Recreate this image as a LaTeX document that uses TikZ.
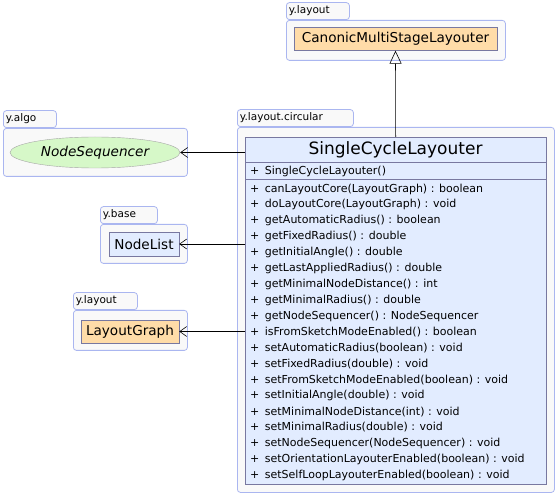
\documentclass[tikz,border=0pt]{standalone}
\usepackage{fontspec}
\setmainfont{DejaVu Sans}
\usetikzlibrary{positioning,arrows.meta,shapes.geometric}
\definecolor{pkgfill}{RGB}{249,249,249}
\definecolor{pkgline}{RGB}{170,182,240}
\definecolor{clsline}{RGB}{120,120,160}
\definecolor{clsblue}{RGB}{226,236,255}
\definecolor{clsorange}{RGB}{255,220,168}
\definecolor{ifgreen}{RGB}{214,248,200}

\begin{document}
\begin{tikzpicture}[
  x=1pt, y=-1pt,
  pkgbody/.style={draw=pkgline, line width=0.8pt, fill=pkgfill, rounded corners=3pt, anchor=north west, inner sep=0pt},
  pkgtab/.style={draw=pkgline, line width=0.8pt, fill=pkgfill, rounded corners=3pt, anchor=south west,
                 minimum height=17pt, inner sep=2.5pt, align=left, font=\fontsize{10.5}{12}\selectfont, text width=#1},
  cls/.style={draw=clsline, fill=clsblue, minimum height=23pt, inner sep=2pt, font=\fontsize{13.6}{16}\selectfont},
  iface/.style={ellipse, draw=gray!70, fill=ifgreen, minimum width=170pt, minimum height=31pt, font=\fontsize{13.6}{16}\selectfont\itshape},
  member/.style={anchor=west, inner sep=0pt, font=\fontsize{11}{13}\selectfont},
  dep/.style={-{Straight Barb[length=7pt, width=10pt]}, semithick},
  inherit/.style={-{Triangle[open, length=13pt, width=12pt]}, semithick},
]
\useasboundingbox (0,0) rectangle (557,494);

% packages
\node[pkgbody, minimum width=219pt, minimum height=40pt] (pkglayout) at (286,20) {};
\node[pkgtab=58pt] (tablayout) at (pkglayout.north west) {y.layout};
\node[pkgbody, minimum width=184pt, minimum height=48pt] (pkgalgo) at (3,128) {};
\node[pkgtab=48pt] (tabalgo) at (pkgalgo.north west) {y.algo};
\node[pkgbody, minimum width=87pt, minimum height=39pt] (pkgbase) at (100,224) {};
\node[pkgtab=52pt] (tabbase) at (pkgbase.north west) {y.base};
\node[pkgbody, minimum width=114pt, minimum height=40pt] (pkglayout2) at (73,310) {};
\node[pkgtab=59pt] (tablayout2) at (pkglayout2.north west) {y.layout};
\node[pkgbody, minimum width=317pt, minimum height=365pt] (pkgcirc) at (237,127) {};
\node[pkgtab=111pt] (tabcirc) at (pkgcirc.north west) {y.layout.circular};

% classes
\node[cls, fill=clsorange, minimum width=203pt] (canon) at (395.5,39) {CanonicMultiStageLayouter};
\node[iface] (seq) at (95,152.5) {NodeSequencer};
\node[cls, minimum width=70pt, minimum height=24pt] (nlist) at (144,244) {NodeList};
\node[cls, fill=clsorange, minimum width=98pt] (lgraph) at (130,331.5) {LayoutGraph};

% SingleCycleLayouter
\node[draw=clsline, fill=clsblue, minimum width=301pt, minimum height=347pt, anchor=north west, inner sep=0pt] (sclass) at (245,137) {};
\node[font=\fontsize{17}{20}\selectfont] (sname) at (395.5,150) {SingleCycleLayouter};
\draw[clsline] (sclass.west |- 0,162) coordinate (sep1) -- (sclass.east |- sep1);
\draw[clsline] (sclass.west |- 0,179) coordinate (sep2) -- (sclass.east |- sep2);
\node[member] (ctor) at (250,171) {+\enspace SingleCycleLayouter()};
\foreach \m [count=\i from 0] in {
  canLayoutCore(LayoutGraph) : boolean,
  doLayoutCore(LayoutGraph) : void,
  getAutomaticRadius() : boolean,
  getFixedRadius() : double,
  getInitialAngle() : double,
  getLastAppliedRadius() : double,
  getMinimalNodeDistance() : int,
  getMinimalRadius() : double,
  getNodeSequencer() : NodeSequencer,
  isFromSketchModeEnabled() : boolean,
  setAutomaticRadius(boolean) : void,
  setFixedRadius(double) : void,
  setFromSketchModeEnabled(boolean) : void,
  setInitialAngle(double) : void,
  setMinimalNodeDistance(int) : void,
  setMinimalRadius(double) : void,
  setNodeSequencer(NodeSequencer) : void,
  setOrientationLayouterEnabled(boolean) : void,
  setSelfLoopLayouterEnabled(boolean) : void}
  \node[member] (m\i) at (250,189+15.9*\i) {+\enspace\m};

% relations
\draw[inherit] (sclass.north) -- (canon.south);
\draw[dep] (sclass.west |- seq.east) -- (seq.east);
\draw[dep] (sclass.west |- nlist.east) -- (nlist.east);
\draw[dep] (sclass.west |- lgraph.east) -- (lgraph.east);
\end{tikzpicture}
\end{document}
